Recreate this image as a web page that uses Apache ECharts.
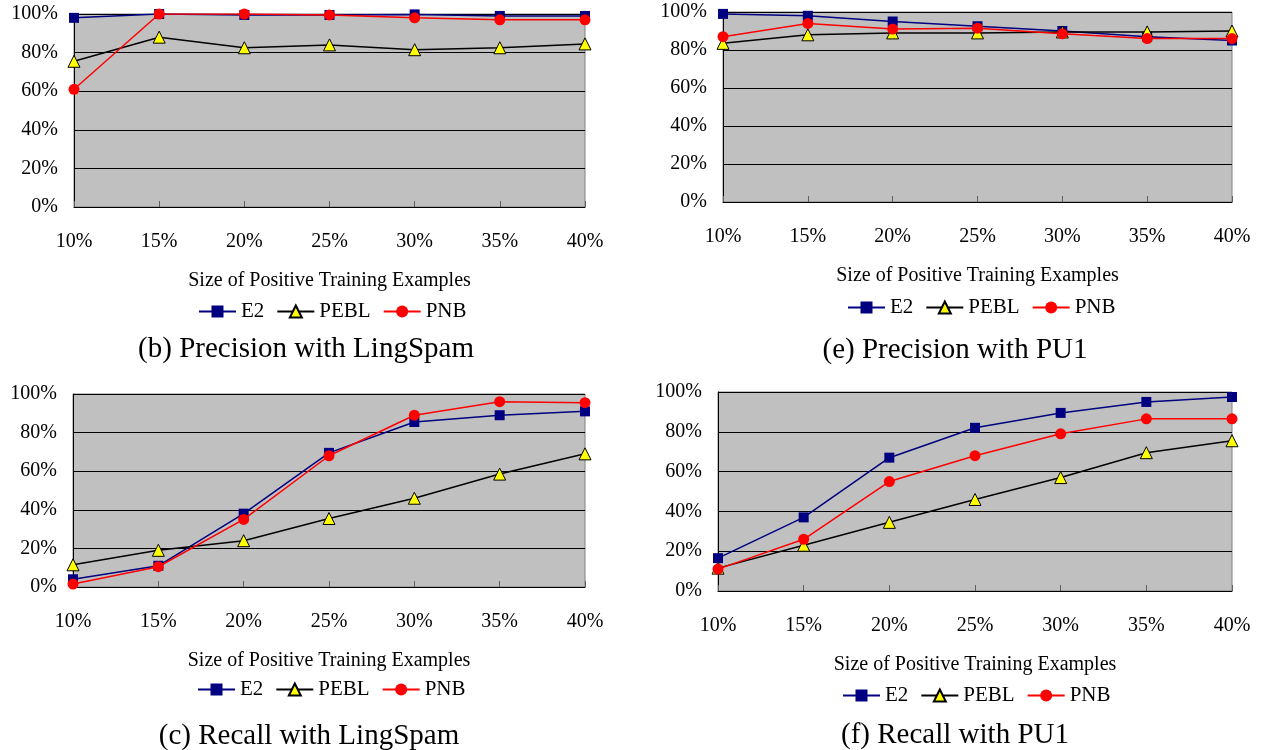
<!DOCTYPE html>
<html>
<head>
<meta charset="utf-8">
<script src="https://cdn.jsdelivr.net/npm/echarts@6/dist/echarts.min.js"></script>
<style>
html,body{margin:0;padding:0;background:#fff;}
#c{width:1263px;height:750px;}
</style>
</head>
<body>
<div id="c"></div>
<script>
// ---- data ----
const categories = ['10%','15%','20%','25%','30%','35%','40%'];
const seriesNames = ['E2','PEBL','PNB'];

const precLingE2   = [98, 100, 99.5, 99.5, 99.8, 99, 99];
const precLingPEBL = [75.5, 88, 82.5, 84, 81.5, 82.5, 84.5];
const precLingPNB  = [61, 100, 100, 99.5, 98, 97, 97];

const precPU1E2    = [99, 98, 95, 92.5, 90, 87, 85];
const precPU1PEBL  = [83.5, 88, 89, 89, 89.5, 89.5, 90];
const precPU1PNB   = [87, 94, 91, 91.5, 88.5, 86, 86];

const recLingE2    = [4, 11, 38, 69.5, 85.5, 89, 91];
const recLingPEBL  = [11.5, 19, 24, 35.5, 46, 58.5, 69];
const recLingPNB   = [1.5, 10.5, 35, 68, 89, 96, 95.5];

const recPU1E2     = [16.5, 37, 67, 82, 89.5, 95, 97.5];
const recPU1PEBL   = [11.5, 23, 34.5, 46, 57, 69.5, 75.5];
const recPU1PNB    = [11, 26, 55, 68, 79, 86.5, 86.5];

const yTicks = [0, 20, 40, 60, 80, 100];
const axisTitle = 'Size of Positive Training Examples';
const captions = ['(b) Precision with LingSpam', '(e) Precision with PU1', '(c) Recall with LingSpam', '(f) Recall with PU1'];

// ---- layout ----
const FONT = '"Liberation Serif", "Times New Roman", serif';
const panels = [
  {grid:{left:74, top:14, width:511, height:193}, data:[precLingE2, precLingPEBL, precLingPNB], legend:{left:198, top:301}, cap:[306,349]},
  {grid:{left:723, top:12, width:509, height:190}, data:[precPU1E2, precPU1PEBL, precPU1PNB], legend:{left:847, top:297}, cap:[955,350]},
  {grid:{left:73, top:394, width:512, height:193}, data:[recLingE2, recLingPEBL, recLingPNB], legend:{left:197, top:679}, cap:[309,736]},
  {grid:{left:718, top:392, width:514, height:199}, data:[recPU1E2, recPU1PEBL, recPU1PNB], legend:{left:842, top:685}, cap:[955,735]}
];

const styles = [
  {color:'#000080', lineColor:'#000080', symbol:'rect', size:10, border:'#000080', bw:0},
  {color:'#FFFF00', lineColor:'#000000', symbol:'triangle', size:12, border:'#000000', bw:1},
  {color:'#FF0000', lineColor:'#FF0000', symbol:'circle', size:11, border:'#FF0000', bw:0}
];

const grids = [], xAxes = [], yAxes = [], series = [], legends = [], graphics = [];
panels.forEach((p, i) => {
  grids.push(Object.assign({
    show:true, backgroundColor:'#C0C0C0', borderColor:'#808080', borderWidth:1,
    outerBoundsMode:'none', containLabel:false
  }, p.grid));
  xAxes.push({
    type:'category', gridIndex:i, data:categories, boundaryGap:false,
    axisLine:{show:true, lineStyle:{color:'#000', width:1}},
    axisTick:{show:true, inside:true, length:6, lineStyle:{color:'#606060'}},
    axisLabel:{fontFamily:FONT, fontSize:20, color:'#000', margin:25},
    splitLine:{show:false},
    name:axisTitle, nameLocation:'middle', nameGap:64,
    nameTextStyle:{fontFamily:FONT, fontSize:20, color:'#000'}
  });
  yAxes.push({
    type:'value', gridIndex:i, min:yTicks[0], max:yTicks[yTicks.length-1], interval:yTicks[1]-yTicks[0],
    axisLine:{show:true, lineStyle:{color:'#000', width:1}},
    axisTick:{show:false},
    axisLabel:{fontFamily:FONT, fontSize:20, color:'#000', margin:16, formatter:'{value}%'},
    splitLine:{show:true, lineStyle:{color:'#000', width:1}}
  });
  p.data.forEach((d, k) => {
    const s = styles[k];
    series.push({
      type:'line', name:seriesNames[k], xAxisIndex:i, yAxisIndex:i, data:d,
      symbol:s.symbol, symbolSize:s.size, showAllSymbol:true,
      lineStyle:{color:s.lineColor, width:1.5},
      itemStyle:{color:s.color, borderColor:s.border, borderWidth:s.bw},
      z:2+k
    });
  });
  legends.push({
    left:p.legend.left, top:p.legend.top, orient:'horizontal', padding:0,
    itemWidth:37, itemHeight:15, itemGap:12,
    textStyle:{fontFamily:FONT, fontSize:21, color:'#000'},
    data:seriesNames
  });
  graphics.push({
    type:'text', x:p.cap[0], y:p.cap[1],
    style:{text:captions[i], fontFamily:FONT, fontSize:29, fill:'#000', textAlign:'center', textVerticalAlign:'middle'}
  });
});

const chart = echarts.init(document.getElementById('c'), null, {renderer:'canvas'});
chart.setOption({
  animation:false,
  backgroundColor:'#ffffff',
  grid:grids, xAxis:xAxes, yAxis:yAxes, series:series, legend:legends,
  graphic:graphics
});
</script>
</body>
</html>
